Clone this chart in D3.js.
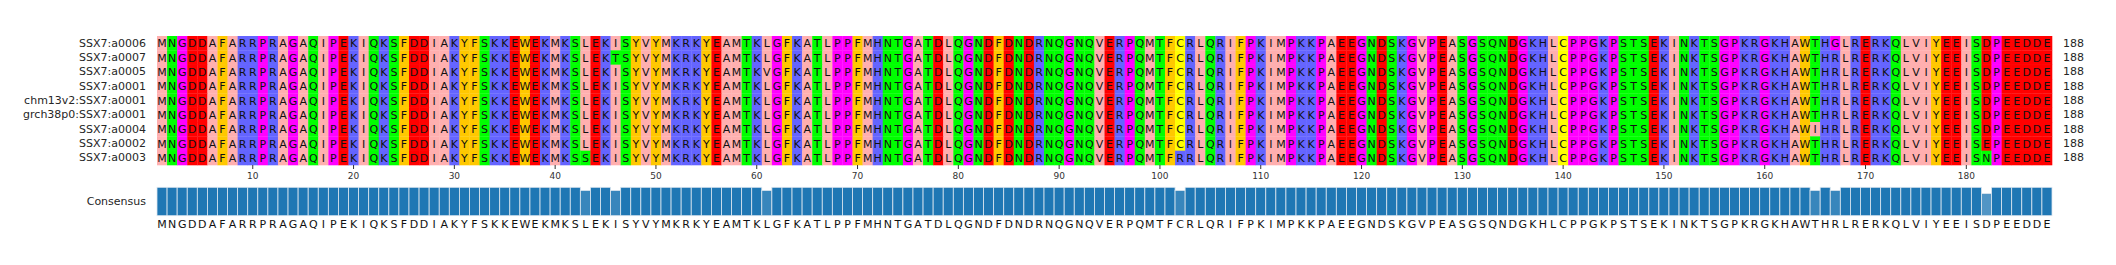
<!DOCTYPE html>
<html>
<head>
<meta charset="utf-8">
<script src="https://cdn.jsdelivr.net/npm/d3@7"></script>
<style>
  body { margin: 0; background: #fff; }
  text { font-family: "DejaVu Sans", sans-serif; }
</style>
</head>
<body>
<div id="chart"></div>
<script>
// Sequence names, top to bottom
const names = [
    "SSX7:a0006", "SSX7:a0007", "SSX7:a0005", "SSX7:a0001",
    "chm13v2:SSX7:a0001", "grch38p0:SSX7:a0001",
    "SSX7:a0004", "SSX7:a0002", "SSX7:a0003"
];

// Aligned sequences, same order as names
const seqs = [
    "MNGDDAFARRPRAGAQIPEKIQKSFDDIAKYFSKKEWEKMKSLEKISYVYMKRKYEAMTKLGFKATLPPFMHNTGATDLQGNDFDNDRNQGNQVERPQMTFCRLQRIFPKIMPKKPAEEGNDSKGVPEASGSQNDGKHLCPPGKPSTSEKINKTSGPKRGKHAWTHGLRERKQLVIYEEISDPEEDDE",
    "MNGDDAFARRPRAGAQIPEKIQKSFDDIAKYFSKKEWEKMKSLEKTSYVYMKRKYEAMTKLGFKATLPPFMHNTGATDLQGNDFDNDRNQGNQVERPQMTFCRLQRIFPKIMPKKPAEEGNDSKGVPEASGSQNDGKHLCPPGKPSTSEKINKTSGPKRGKHAWTHRLRERKQLVIYEEISDPEEDDE",
    "MNGDDAFARRPRAGAQIPEKIQKSFDDIAKYFSKKEWEKMKSLEKISYVYMKRKYEAMTKVGFKATLPPFMHNTGATDLQGNDFDNDRNQGNQVERPQMTFCRLQRIFPKIMPKKPAEEGNDSKGVPEASGSQNDGKHLCPPGKPSTSEKINKTSGPKRGKHAWTHRLRERKQLVIYEEISDPEEDDE",
    "MNGDDAFARRPRAGAQIPEKIQKSFDDIAKYFSKKEWEKMKSLEKISYVYMKRKYEAMTKLGFKATLPPFMHNTGATDLQGNDFDNDRNQGNQVERPQMTFCRLQRIFPKIMPKKPAEEGNDSKGVPEASGSQNDGKHLCPPGKPSTSEKINKTSGPKRGKHAWTHRLRERKQLVIYEEISDPEEDDE",
    "MNGDDAFARRPRAGAQIPEKIQKSFDDIAKYFSKKEWEKMKSLEKISYVYMKRKYEAMTKLGFKATLPPFMHNTGATDLQGNDFDNDRNQGNQVERPQMTFCRLQRIFPKIMPKKPAEEGNDSKGVPEASGSQNDGKHLCPPGKPSTSEKINKTSGPKRGKHAWTHRLRERKQLVIYEEISDPEEDDE",
    "MNGDDAFARRPRAGAQIPEKIQKSFDDIAKYFSKKEWEKMKSLEKISYVYMKRKYEAMTKLGFKATLPPFMHNTGATDLQGNDFDNDRNQGNQVERPQMTFCRLQRIFPKIMPKKPAEEGNDSKGVPEASGSQNDGKHLCPPGKPSTSEKINKTSGPKRGKHAWTHRLRERKQLVIYEEISDPEEDDE",
    "MNGDDAFARRPRAGAQIPEKIQKSFDDIAKYFSKKEWEKMKSLEKISYVYMKRKYEAMTKLGFKATLPPFMHNTGATDLQGNDFDNDRNQGNQVERPQMTFCRLQRIFPKIMPKKPAEEGNDSKGVPEASGSQNDGKHLCPPGKPSTSEKINKTSGPKRGKHAWIHRLRERKQLVIYEEISDPEEDDE",
    "MNGDDAFARRPRAGAQIPEKIQKSFDDIAKYFSKKEWEKMKSLEKISYVYMKRKYEAMTKLGFKATLPPFMHNTGATDLQGNDFDNDRNQGNQVERPQMTFCRLQRIFPKIMPKKPAEEGNDSKGVPEASGSQNDGKHLCPPGKPSTSEKINKTSGPKRGKHAWTHRLRERKQLVIYEEISEPEEDDE",
    "MNGDDAFARRPRAGAQIPEKIQKSFDDIAKYFSKKEWEKMKSSEKISYVYMKRKYEAMTKLGFKATLPPFMHNTGATDLQGNDFDNDRNQGNQVERPQMTFRRLQRIFPKIMPKKPAEEGNDSKGVPEASGSQNDGKHLCPPGKPSTSEKINKTSGPKRGKHAWTHRLRERKQLVIYEEISNPEEDDE"
];

// Position tick labels
const tickPositions = [10, 20, 30, 40, 50, 60, 70, 80, 90, 100, 110, 120, 130, 140, 150, 160, 170, 180];

// Zappo residue colours
const zappo = {};
"ILVAM".split("").forEach(a => zappo[a] = "#ffafaf");
"FWY".split("").forEach(a => zappo[a] = "#ffc800");
"KRH".split("").forEach(a => zappo[a] = "#6464ff");
"DE".split("").forEach(a => zappo[a] = "#ff0000");
"STNQ".split("").forEach(a => zappo[a] = "#00ff00");
"PG".split("").forEach(a => zappo[a] = "#ff00ff");
zappo["C"] = "#ffff00";

const width = 2116, height = 265;
const msaLeft = 157, msaRight = 2052, msaTop = 36, msaBottom = 165;
const nCols = seqs[0].length;
const cols = d3.range(1, nCols + 1);

const svg = d3.select("#chart").append("svg")
    .attr("width", width)
    .attr("height", height);

const x = d3.scaleBand().domain(cols).range([msaLeft, msaRight]);
const y = d3.scaleBand().domain(names).range([msaTop, msaBottom]);

// ---- alignment cells ----
const cells = [];
seqs.forEach((s, i) => {
    s.split("").forEach((aa, j) => cells.push({ name: names[i], pos: j + 1, aa: aa }));
});

const gMsa = svg.append("g");
gMsa.selectAll("rect")
    .data(cells)
    .enter()
    .append("rect")
    .attr("x", d => x(d.pos))
    .attr("y", d => y(d.name))
    .attr("width", x.bandwidth() + 0.3)
    .attr("height", y.bandwidth() + 0.3)
    .attr("fill", d => zappo[d.aa] || "#ffffff");

gMsa.selectAll("text")
    .data(cells)
    .enter()
    .append("text")
    .attr("x", d => x(d.pos) + x.bandwidth() / 2)
    .attr("y", d => y(d.name) + y.bandwidth() / 2 + 0.5)
    .attr("text-anchor", "middle")
    .attr("dominant-baseline", "central")
    .style("font-size", "11px")
    .style("fill", "#111")
    .text(d => d.aa);

// sequence names on the left
svg.append("g").selectAll("text")
    .data(names)
    .enter()
    .append("text")
    .attr("x", msaLeft - 11)
    .attr("y", d => y(d) + y.bandwidth() / 2)
    .attr("text-anchor", "end")
    .attr("dominant-baseline", "central")
    .style("font-size", "11px")
    .style("fill", "#262626")
    .text(d => d);

// residue counts on the right
svg.append("g").selectAll("text")
    .data(seqs)
    .enter()
    .append("text")
    .attr("x", msaRight + 11)
    .attr("y", (d, i) => y(names[i]) + y.bandwidth() / 2)
    .attr("dominant-baseline", "central")
    .style("font-size", "11px")
    .style("fill", "#262626")
    .text(d => d.replace(/-/g, "").length);

// position axis
const axis = svg.append("g")
    .attr("transform", `translate(0,${msaBottom})`)
    .call(d3.axisBottom(x).tickValues(tickPositions).tickSize(4).tickPadding(4));
axis.select(".domain").remove();
axis.selectAll("line").attr("stroke", "#333");
axis.selectAll("text")
    .style("font-family", "DejaVu Sans")
    .style("font-size", "9px")
    .style("fill", "#333");

// ---- consensus ----
const consensus = cols.map(p => {
    const counts = d3.rollup(seqs, v => v.length, s => s[p - 1]);
    const best = d3.greatest(counts, d => d[1]);
    return { pos: p, aa: best[0], ident: best[1] / seqs.length };
});

const yCons = d3.scaleLinear().domain([0, 1]).range([215.7, 187.3]);
const barColor = d3.interpolateRgb("#ffffff", "#1f77b4");

svg.append("g").selectAll("rect")
    .data(consensus)
    .enter()
    .append("rect")
    .attr("x", d => x(d.pos))
    .attr("y", d => yCons(d.ident))
    .attr("width", x.bandwidth())
    .attr("height", d => yCons(0) - yCons(d.ident))
    .attr("fill", d => barColor(d.ident))
    .attr("stroke", "#dce6ef")
    .attr("stroke-width", 0.8);

svg.append("text")
    .attr("x", msaLeft - 11)
    .attr("y", (yCons(0) + yCons(1)) / 2)
    .attr("text-anchor", "end")
    .attr("dominant-baseline", "central")
    .style("font-size", "11px")
    .style("fill", "#262626")
    .text("Consensus");

svg.append("g").selectAll("text")
    .data(consensus)
    .enter()
    .append("text")
    .attr("x", d => x(d.pos) + x.bandwidth() / 2)
    .attr("y", 224)
    .attr("text-anchor", "middle")
    .attr("dominant-baseline", "central")
    .style("font-size", "11px")
    .style("fill", "#111")
    .text(d => d.aa);
</script>
</body>
</html>
